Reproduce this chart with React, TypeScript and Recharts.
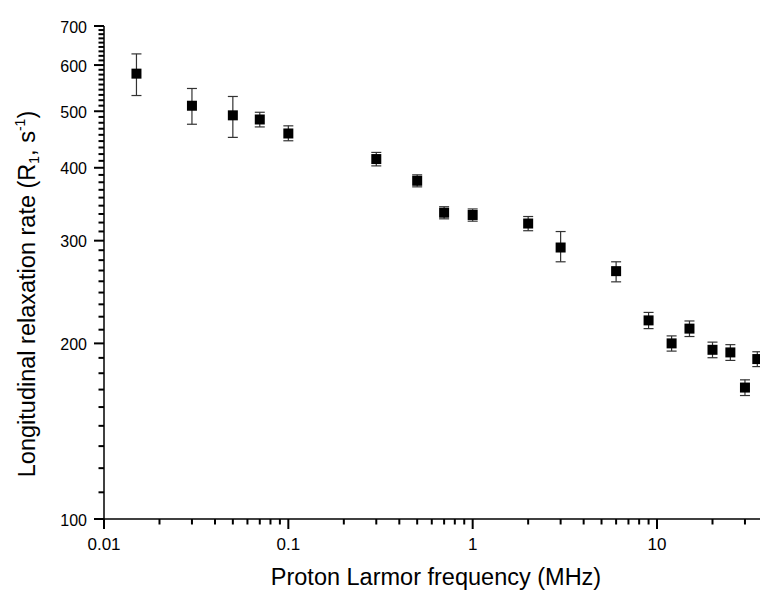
import React from 'react';
import { ScatterChart, Scatter, XAxis, YAxis, ErrorBar } from 'recharts';

// Proton Larmor frequency (MHz)
const freqMHz = [0.015, 0.03, 0.05, 0.07, 0.1, 0.3, 0.5, 0.7, 1, 2, 3, 6, 9, 12, 15, 20, 25, 30, 35];
// Longitudinal relaxation rate R1 (s^-1)
const r1Values = [580, 511, 492, 484, 458, 414, 380, 335, 332, 321, 292, 266, 219, 200, 212, 195, 193, 168, 188];
// error below / above the point
const errBelow = [48, 36, 41, 14, 13, 11, 9, 8, 8, 9, 16, 11, 7, 6, 6.5, 6, 6, 5.2, 5.5];
const errAbove = [47, 36, 38, 14, 14, 11, 9, 8, 8, 9, 19, 10, 7, 6, 6.5, 6, 6, 5.2, 5.5];

const xMajorTicks = [0.01, 0.1, 1, 10];
const xMajorLabels = ['0.01', '0.1', '1', '10'];
const xMinorTicks = [
  0.02, 0.03, 0.04, 0.05, 0.06, 0.07, 0.08, 0.09,
  0.2, 0.3, 0.4, 0.5, 0.6, 0.7, 0.8, 0.9,
  2, 3, 4, 5, 6, 7, 8, 9,
  20, 30,
];
const yMajorTicks = [100, 200, 300, 400, 500, 600, 700];
const yMajorLabels = ['100', '200', '300', '400', '500', '600', '700'];
const yMinorPerInterval = 8;

const yMinorTicks: number[] = [];
for (let i = 0; i < yMajorTicks.length - 1; i++) {
  const a = yMajorTicks[i];
  const b = yMajorTicks[i + 1];
  for (let k = 1; k <= yMinorPerInterval; k++) {
    yMinorTicks.push(a + ((b - a) * k) / (yMinorPerInterval + 1));
  }
}

const table = freqMHz.map((f, i) => ({
  f,
  r1: r1Values[i],
  err: [errBelow[i], errAbove[i]],
}));

const FONT = '"Liberation Sans", Arial, Helvetica, sans-serif';
const xTickValues = [...xMajorTicks, ...xMinorTicks].sort((a, b) => a - b);
const yTickValues = [...yMajorTicks, ...yMinorTicks].sort((a, b) => a - b);
const isClose = (a: number, b: number) => Math.abs(a - b) < 1e-9 * Math.max(1, Math.abs(b));

const XTick = (props: any) => {
  const x = Number(props.x);
  const y = Number(props.y);
  const idx = xMajorTicks.findIndex((m) => isClose(m, props.payload.value));
  const major = idx >= 0;
  return (
    <g>
      <line x1={x} x2={x} y1={y} y2={y + (major ? 10 : 5.5)} stroke="#000" strokeWidth={2} />
      {major && (
        <text x={x} y={y + 31} textAnchor="middle" fontSize={17} fill="#000">
          {xMajorLabels[idx]}
        </text>
      )}
    </g>
  );
};

const YTick = (props: any) => {
  const x = Number(props.x);
  const y = Number(props.y);
  const idx = yMajorTicks.findIndex((m) => isClose(m, props.payload.value));
  const major = idx >= 0;
  const len = major ? 10 : 5.5;
  return (
    <g>
      <line x1={x} x2={x - len} y1={y} y2={y} stroke="#000" strokeWidth={2} />
      {major && (
        <text x={x - 17} y={y + 6.5} textAnchor="end" fontSize={16} fill="#000">
          {yMajorLabels[idx]}
        </text>
      )}
    </g>
  );
};

const SquareMark = (p: any) => {
  if (p.cx == null || p.cy == null) return null;
  return <rect x={p.cx - 5} y={p.cy - 5} width={10} height={10} fill="#000" />;
};

const titleStyle: React.CSSProperties = {
  position: 'absolute',
  fontSize: 23.5,
  color: '#000',
  whiteSpace: 'nowrap',
  lineHeight: 1,
};

export default function App() {
  return (
    <div
      style={{
        position: 'absolute',
        left: 0,
        top: 0,
        width: 760,
        height: 591,
        background: '#fff',
        overflow: 'hidden',
        fontFamily: FONT,
      }}
    >
      <ScatterChart width={760} height={591} margin={{ top: 26, right: 0, bottom: 0, left: 0 }}>
        <XAxis
          dataKey="f"
          type="number"
          scale="log"
          domain={[0.01, 36.2]}
          allowDataOverflow
          ticks={xTickValues}
          interval={0}
          tick={<XTick />}
          tickLine={false}
          tickSize={0}
          tickMargin={0}
          height={72}
          axisLine={{ stroke: '#000', strokeWidth: 1.5 }}
        />
        <YAxis
          dataKey="r1"
          type="number"
          scale="log"
          domain={[100, 700]}
          ticks={yTickValues}
          interval={0}
          tick={<YTick />}
          tickLine={false}
          tickSize={0}
          tickMargin={0}
          width={104}
          axisLine={{ stroke: '#000', strokeWidth: 1.5 }}
        />
        <Scatter data={table} dataKey="r1" shape={<SquareMark />} fill="#000" isAnimationActive={false}>
          <ErrorBar dataKey="err" direction="y" width={5} stroke="#333" strokeWidth={1.2} isAnimationActive={false} />
        </Scatter>
      </ScatterChart>
      <div style={{ ...titleStyle, left: 0, width: 872, top: 566, textAlign: 'center' }}>
        Proton Larmor frequency (MHz)
      </div>
      <div
        style={{
          ...titleStyle,
          left: 28,
          top: 294,
          transform: 'translate(-50%, -50%) rotate(-90deg)',
        }}
      >
        Longitudinal relaxation rate (R
        <sub style={{ fontSize: 14, verticalAlign: '-4px', lineHeight: 0 }}>1</sub>, s
        <sup style={{ fontSize: 14, verticalAlign: '10px', lineHeight: 0 }}>-1</sup>)
      </div>
    </div>
  );
}
